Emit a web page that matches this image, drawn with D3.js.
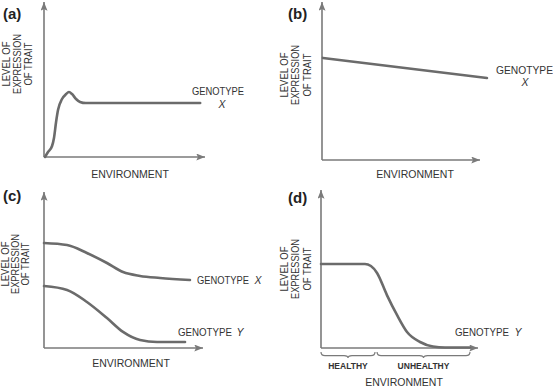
<!DOCTYPE html>
<html>
<head>
<meta charset="utf-8">
<script src="https://cdn.jsdelivr.net/npm/d3@7"></script>
<style>
  html, body { margin: 0; padding: 0; background: #fff; }
  svg { display: block; font-family: "Liberation Sans", Arial, Helvetica, sans-serif; }
</style>
</head>
<body>
<svg id="chart" width="553" height="387"></svg>
<script>
// values, both axes on a 0-100 scale per panel
const panelTags = ["(a)", "(b)", "(c)", "(d)"];
const yLabelLines = ["LEVEL OF", "EXPRESSION", "OF TRAIT"];
const xLabel = "ENVIRONMENT";

// (a) genotype X: quick rise, small overshoot, then flat
const aEnv   = [0.6, 2.5, 5, 6.2, 7.5, 8.7, 11.2, 13.7, 15.5, 17.4, 19.9, 22.4, 26, 97];
const aGenoX = [0, 3.2, 7.1, 12.3, 22.6, 30.3, 37.4, 40.6, 41.9, 40.6, 37.4, 35.5, 34.8, 34.8];

// (b) genotype X: slow linear decline
const bEnv   = [0.6, 104.4];
const bGenoX = [64.6, 51.9];

// (c) genotypes X and Y
const cEnvX  = [0, 14.5, 27, 39.6, 49.7, 60.4, 73, 91.8];
const cGenoX = [67.3, 66, 60.9, 54.5, 48.7, 46.2, 44.9, 43.6];
const cEnvY  = [0, 14.5, 27, 39.6, 49.7, 60.4, 71.1, 88.7];
const cGenoY = [39.7, 37.2, 29.5, 19.2, 10.3, 5.1, 3.8, 3.8];

// (d) genotype Y with healthy / unhealthy ranges
const dEnv   = [0, 28, 31.8, 35.7, 42, 48.4, 54.8, 63.1, 71.3, 79, 94.9];
const dGenoY = [53.2, 53.2, 51.9, 47.5, 33.5, 20.9, 10.1, 3.8, 0.9, 0.3, 0.3];
const dZones     = ["HEALTHY", "UNHEALTHY"];
const dZoneStart = [0, 35.7];
const dZoneEnd   = [34.4, 94.9];

const axisColor = "#7a7a7a";
const lineColor = "#6b6b6b";

const svg = d3.select("#chart");

svg.append("defs").append("marker")
    .attr("id", "arrow")
    .attr("viewBox", "0 0 10 8")
    .attr("refX", 10).attr("refY", 4)
    .attr("markerWidth", 9).attr("markerHeight", 7)
    .attr("markerUnits", "userSpaceOnUse")
    .attr("orient", "auto")
  .append("path")
    .attr("d", "M0,0 L10,4 L0,8 L2,4 Z")
    .attr("fill", axisColor);

// panel frames: origin, end of x axis, top of y axis
const panels = [
  { ox: 44,  oy: 157, xEnd: 205, yTop: 2,   tag: [3, 19],    yl: { xs: [10, 21, 32],    cy: 64 },  env: [130, 178] },
  { ox: 322, oy: 160, xEnd: 480, yTop: 2,   tag: [288, 19],  yl: { xs: [288, 299, 311], cy: 75 },  env: [415, 178] },
  { ox: 44,  oy: 348, xEnd: 203, yTop: 192, tag: [3, 201],   yl: { xs: [9, 19, 29],     cy: 264 }, env: [131, 367] },
  { ox: 321, oy: 348, xEnd: 478, yTop: 190, tag: [288, 203], yl: { xs: [288, 299, 311], cy: 269 }, env: [404, 386] }
];

panels.forEach((p, i) => {
  p.x = d3.scaleLinear().domain([0, 100]).range([p.ox, p.xEnd]);
  p.y = d3.scaleLinear().domain([0, 100]).range([p.oy, p.yTop]);
  const g = svg.append("g");

  // axes with arrow heads
  g.append("line")
      .attr("x1", p.x(0)).attr("y1", p.y(0)).attr("x2", p.x(0)).attr("y2", p.y(100))
      .attr("stroke", axisColor).attr("stroke-width", 1.6).attr("marker-end", "url(#arrow)");
  g.append("line")
      .attr("x1", p.x(0)).attr("y1", p.y(0)).attr("x2", p.x(100)).attr("y2", p.y(0))
      .attr("stroke", axisColor).attr("stroke-width", 1.6).attr("marker-end", "url(#arrow)");

  g.append("text")
      .attr("x", p.tag[0]).attr("y", p.tag[1])
      .attr("font-size", 15).attr("font-weight", "bold").attr("fill", "#222")
      .text(panelTags[i]);

  yLabelLines.forEach((t, k) => {
    g.append("text")
        .attr("transform", `translate(${p.yl.xs[k]},${p.yl.cy}) rotate(-90)`)
        .attr("text-anchor", "middle")
        .attr("font-size", 11).attr("fill", "#333")
        .attr("textLength", [45, 60, 43][k]).attr("lengthAdjust", "spacingAndGlyphs")
        .text(t);
  });

  g.append("text")
      .attr("x", p.env[0]).attr("y", p.env[1])
      .attr("text-anchor", "middle")
      .attr("font-size", 10.5).attr("fill", "#333")
      .text(xLabel);
});

const line = (p, xs, ys) => d3.line()
    .x((d, k) => p.x(xs[k]))
    .y(d => p.y(d))
    .curve(d3.curveMonotoneX)(ys);

const drawCurve = (p, xs, ys) => svg.append("path")
    .attr("d", line(p, xs, ys))
    .attr("fill", "none")
    .attr("stroke", lineColor)
    .attr("stroke-width", 2.6)
    .attr("stroke-linecap", "round");

const [A, B, C, D] = panels;
drawCurve(A, aEnv, aGenoX);
drawCurve(B, bEnv, bGenoX);
drawCurve(C, cEnvX, cGenoX);
drawCurve(C, cEnvY, cGenoY);
drawCurve(D, dEnv, dGenoY);

// curve labels: the word, then the italic genotype letter as its own text
function label(x, y, word, len, anchor) {
  const t = svg.append("text")
      .attr("x", x).attr("y", y)
      .attr("font-size", 10.5).attr("fill", "#333")
      .attr("text-anchor", anchor || "start")
      .text(word);
  if (len) t.attr("textLength", len).attr("lengthAdjust", "spacingAndGlyphs");
  return t;
}
const letter = (x, y, s) => label(x, y, s, null, "middle").attr("font-style", "italic");

label(218, 95, "GENOTYPE", 52, "middle");
letter(222, 108, "X");
label(496, 74, "GENOTYPE", 57);
letter(525, 86, "X");
label(197, 284, "GENOTYPE", 52);
letter(258, 284, "X");
label(178, 336, "GENOTYPE", 54);
letter(240, 336, "Y");
label(455, 336, "GENOTYPE", 54);
letter(518, 336, "Y");

// braces under the (d) axis
function brace(x1, x2, y0, h) {
  const m = (x1 + x2) / 2, yb = y0 + h * 0.6, r = 4;
  return `M${x1},${y0} Q${x1},${yb} ${x1 + r},${yb} L${m - r},${yb} Q${m},${yb} ${m},${y0 + h}` +
         ` Q${m},${yb} ${m + r},${yb} L${x2 - r},${yb} Q${x2},${yb} ${x2},${y0}`;
}
dZones.forEach((z, k) => {
  const x1 = D.x(dZoneStart[k]), x2 = D.x(dZoneEnd[k]);
  svg.append("path")
      .attr("d", brace(x1, x2, 352, 6))
      .attr("fill", "none").attr("stroke", axisColor).attr("stroke-width", 1.2);
  svg.append("text")
      .attr("x", (x1 + x2) / 2).attr("y", 369)
      .attr("text-anchor", "middle")
      .attr("font-size", 8.5).attr("font-weight", "bold").attr("fill", "#333")
      .text(z);
});
</script>
</body>
</html>
